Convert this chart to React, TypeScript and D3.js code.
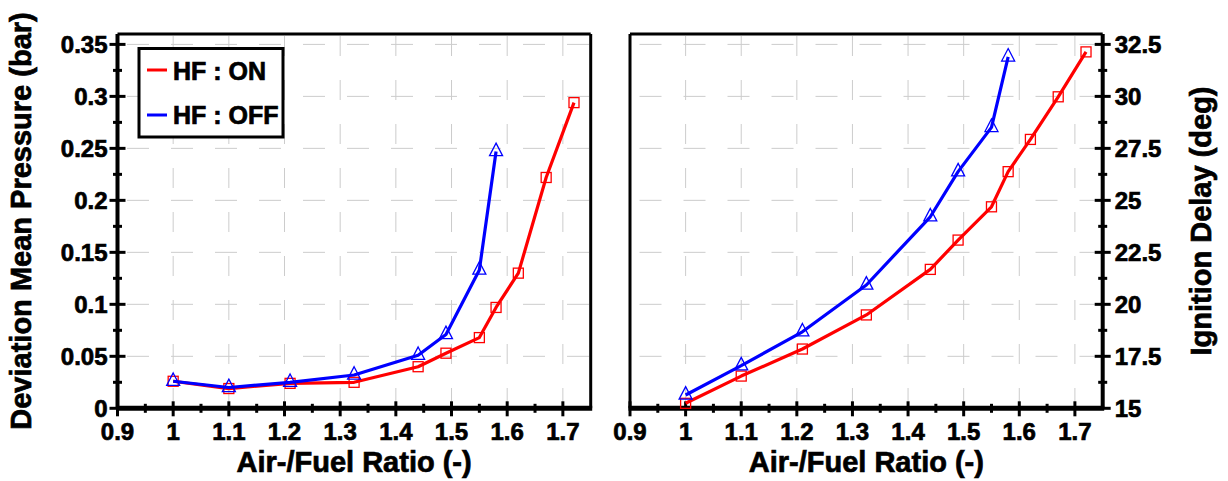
import React from "react";
import * as d3 from "d3";

const afrOn = [1.0, 1.1, 1.21, 1.325, 1.44, 1.49, 1.55, 1.58, 1.62, 1.67, 1.72];
const cpvOn = [0.026, 0.019, 0.024, 0.025, 0.04, 0.053, 0.068, 0.097, 0.13, 0.222, 0.294];
const igdOn = [15.24, 16.55, 17.85, 19.49, 21.68, 23.09, 24.69, 26.38, 27.93, 29.98, 32.14];

const afrOff = [1.0, 1.1, 1.21, 1.325, 1.44, 1.49, 1.55, 1.58];
const cpvOff = [0.026, 0.02, 0.025, 0.032, 0.051, 0.071, 0.133, 0.247];
const igdOff = [15.64, 17.05, 18.68, 20.93, 24.21, 26.38, 28.51, 31.9];

const xTicks = [0.9, 1.0, 1.1, 1.2, 1.3, 1.4, 1.5, 1.6, 1.7];
const xMinor = [0.95, 1.05, 1.15, 1.25, 1.35, 1.45, 1.55, 1.65];
const cpvTicks = [0, 0.05, 0.1, 0.15, 0.2, 0.25, 0.3, 0.35];
const cpvMinor = [0.025, 0.075, 0.125, 0.175, 0.225, 0.275, 0.325];
const igdTicks = [15, 17.5, 20, 22.5, 25, 27.5, 30, 32.5];
const igdMinor = [16.25, 18.75, 21.25, 23.75, 26.25, 28.75, 31.25];

const legendLabels = ["HF : ON", "HF : OFF"];
const RED = "#ff0000";
const BLUE = "#0000ff";
const FONT = "'Liberation Sans', Arial, sans-serif";

const TOP = 34;
const BOTTOM = 408.3;

const textStyle: any = {
  fontFamily: FONT,
  fontWeight: "bold",
  stroke: "#000",
  strokeWidth: 0.7,
  fill: "#000",
};

function Markers({ xs, ys, x, y, kind, color }: any) {
  return (
    <g>
      {xs.map((v: number, i: number) => {
        const cx = x(v);
        const cy = y(ys[i]);
        if (kind === "square") {
          return <rect key={i} x={cx - 5} y={cy - 5} width={10} height={10} fill="none" stroke={color} strokeWidth={1.3} />;
        }
        const h = 12.5;
        const w = 13;
        const p = `M${cx},${cy - (2 * h) / 3} L${cx + w / 2},${cy + h / 3} L${cx - w / 2},${cy + h / 3} Z`;
        return <path key={i} d={p} fill="none" stroke={color} strokeWidth={1.3} />;
      })}
    </g>
  );
}

function Panel({ left, right, yDomain, yTicks, yMinor, onY, offY, yAxisSide, yFmt }: any) {
  const x = d3.scaleLinear().domain([0.9, 1.75]).range([left, right]);
  const y = d3.scaleLinear().domain(yDomain).range([BOTTOM, TOP]);
  const line = (xs: number[], ys: number[]) =>
    d3.line<number>().x((d) => x(d)).y((_, i) => y(ys[i]))(xs) || "";
  const axisX = yAxisSide === "left" ? left : right;
  return (
    <g>
      {xTicks.slice(1).map((t) => (
        <line key={"gx" + t} x1={x(t)} x2={x(t)} y1={TOP + 2} y2={BOTTOM} stroke="#cccccc" strokeWidth={1} strokeDasharray="20 24" />
      ))}
      {yTicks.slice(1).map((t: number) => (
        <line key={"gy" + t} x1={left + 9.5} x2={right} y1={y(t)} y2={y(t)} stroke="#cccccc" strokeWidth={1} strokeDasharray="22 22" />
      ))}
      <line x1={left} x2={right} y1={TOP} y2={TOP} stroke="#000" strokeWidth={3} />
      <line x1={left} x2={left} y1={TOP} y2={BOTTOM} stroke="#000" strokeWidth={yAxisSide === "left" ? 4 : 3} />
      <line x1={right} x2={right} y1={TOP} y2={BOTTOM} stroke="#000" strokeWidth={yAxisSide === "right" ? 4 : 3} />
      <line x1={left - 1.5} x2={right + 1.5} y1={BOTTOM} y2={BOTTOM} stroke="#000" strokeWidth={5} />
      {xTicks.map((t) => (
        <line key={"tx" + t} x1={x(t)} x2={x(t)} y1={BOTTOM - 7} y2={BOTTOM + 8} stroke="#000" strokeWidth={3} />
      ))}
      {xMinor.map((t) => (
        <line key={"mx" + t} x1={x(t)} x2={x(t)} y1={BOTTOM - 4.5} y2={BOTTOM + 4.5} stroke="#000" strokeWidth={3} />
      ))}
      {xTicks.map((t) => (
        <text key={"lx" + t} x={x(t)} y={440} textAnchor="middle" fontSize={24} style={textStyle}>
          {d3.format("~g")(t)}
        </text>
      ))}
      {yTicks.map((t: number) => (
        <line key={"ty" + t} x1={axisX - 8} x2={axisX + 8} y1={y(t)} y2={y(t)} stroke="#000" strokeWidth={3} />
      ))}
      {yMinor.map((t: number) => (
        <line key={"my" + t} x1={axisX - 4.5} x2={axisX + 4.5} y1={y(t)} y2={y(t)} stroke="#000" strokeWidth={3} />
      ))}
      {yTicks.map((t: number) => (
        <text
          key={"ly" + t}
          x={yAxisSide === "left" ? axisX - 10 : axisX + 12}
          y={y(t) + 8.5}
          textAnchor={yAxisSide === "left" ? "end" : "start"}
          fontSize={24}
          style={textStyle}
        >
          {yFmt(t)}
        </text>
      ))}
      <path d={line(afrOn, onY)} fill="none" stroke={RED} strokeWidth={3.2} strokeLinejoin="round" />
      <Markers xs={afrOn} ys={onY} x={x} y={y} kind="square" color={RED} />
      <path d={line(afrOff, offY)} fill="none" stroke={BLUE} strokeWidth={3.2} strokeLinejoin="round" />
      <Markers xs={afrOff} ys={offY} x={x} y={y} kind="triangle" color={BLUE} />
      <text x={(left + right) / 2} y={472} textAnchor="middle" fontSize={29} style={textStyle}>
        Air-/Fuel Ratio (-)
      </text>
    </g>
  );
}

export default function App() {
  return (
    <svg width={1228} height={481} style={{ position: "absolute", left: 0, top: 0, background: "#fff" }}>
      <rect width={1228} height={481} fill="#fff" />
      <Panel
        left={117.5}
        right={590.7}
        yDomain={[0, 0.36]}
        yTicks={cpvTicks}
        yMinor={cpvMinor}
        onY={cpvOn}
        offY={cpvOff}
        yAxisSide="left"
        yFmt={(t: number) => d3.format("~g")(t)}
      />
      <Panel
        left={630}
        right={1102.7}
        yDomain={[15, 33]}
        yTicks={igdTicks}
        yMinor={igdMinor}
        onY={igdOn}
        offY={igdOff}
        yAxisSide="right"
        yFmt={(t: number) => d3.format("~g")(t)}
      />
      <text transform="translate(31,221) rotate(-90)" textAnchor="middle" fontSize={29} style={textStyle}>
        Deviation Mean Pressure (bar)
      </text>
      <text transform="translate(1210.5,221) rotate(-90)" textAnchor="middle" fontSize={29} style={textStyle}>
        Ignition Delay (deg)
      </text>
      <rect x={139} y={48.5} width={144} height={88.5} fill="#fff" stroke="#000" strokeWidth={3} />
      <line x1={147} x2={167} y1={70} y2={70} stroke={RED} strokeWidth={3} />
      <line x1={147} x2={167} y1={115} y2={115} stroke={BLUE} strokeWidth={3} />
      <text x={173} y={79.5} fontSize={25} style={textStyle}>
        {legendLabels[0]}
      </text>
      <text x={173} y={124} fontSize={25} style={textStyle}>
        {legendLabels[1]}
      </text>
    </svg>
  );
}
